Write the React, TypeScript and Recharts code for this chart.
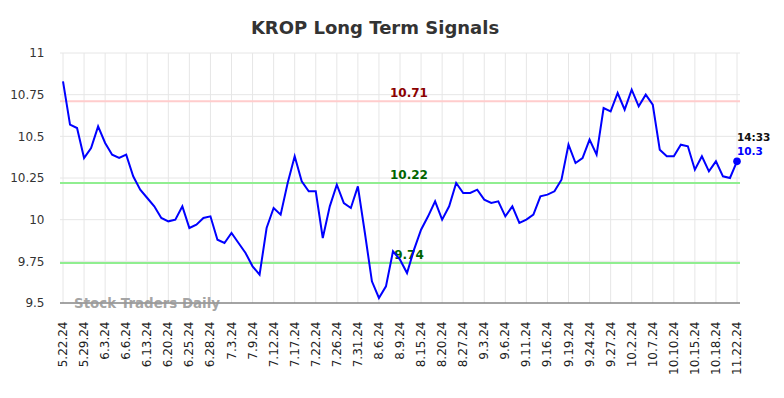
import React from 'react';
import { LineChart, Line, XAxis, YAxis, CartesianGrid, ReferenceLine } from 'recharts';

const tickLabels = ['5.22.24','5.29.24','6.3.24','6.6.24','6.13.24','6.20.24','6.25.24','6.28.24','7.3.24','7.9.24','7.12.24','7.17.24','7.22.24','7.26.24','7.31.24','8.6.24','8.9.24','8.15.24','8.20.24','8.27.24','9.3.24','9.6.24','9.11.24','9.16.24','9.19.24','9.24.24','9.27.24','10.2.24','10.7.24','10.10.24','10.15.24','10.18.24','11.22.24'];

const prices = [
  10.83, 10.57, 10.55, 10.37, 10.43, 10.56, 10.46, 10.39, 10.37, 10.39,
  10.26, 10.18, 10.13, 10.08, 10.01, 9.99, 10.0, 10.08, 9.95, 9.97,
  10.01, 10.02, 9.88, 9.86, 9.92, 9.86, 9.8, 9.72, 9.67, 9.95,
  10.07, 10.03, 10.22, 10.38, 10.23, 10.17, 10.17, 9.89, 10.08, 10.21,
  10.1, 10.07, 10.2, 9.92, 9.63, 9.53, 9.6, 9.81, 9.76, 9.68,
  9.82, 9.94, 10.02, 10.11, 10.0, 10.08, 10.22, 10.16, 10.16, 10.18,
  10.12, 10.1, 10.11, 10.02, 10.08, 9.98, 10.0, 10.03, 10.14, 10.15,
  10.17, 10.24, 10.45, 10.34, 10.37, 10.48, 10.39, 10.67, 10.65, 10.76,
  10.66, 10.78, 10.68, 10.75, 10.69, 10.42, 10.38, 10.38, 10.45, 10.44,
  10.3, 10.38, 10.29, 10.35, 10.26, 10.25, 10.35
];

const yTicks = [9.5, 9.75, 10, 10.25, 10.5, 10.75, 11];
const resistance = 10.71;
const midSupport = 10.22;
const lowSupport = 9.74;
const lastTime = '14:33';
const lastLabel = '10.3';
const title = 'KROP Long Term Signals';
const watermark = 'Stock Traders Daily';

const POINTS_PER_TICK = 3;
const data = prices.map((v, i) => ({ i, v }));
const xTicks = tickLabels.map((_, k) => k * POINTS_PER_TICK);

const FONT = '"DejaVu Sans", sans-serif';

const XTick = (props: any) => {
  const { x, y, payload } = props;
  const label = tickLabels[Math.round(payload.value / POINTS_PER_TICK)] ?? '';
  return (
    <g transform={`translate(${x},${y})`}>
      <text
        transform="rotate(-90)"
        x={-18.5}
        y={0}
        textAnchor="end"
        dominantBaseline="central"
        fontFamily={FONT}
        fontSize={12}
        fill="#222"
      >
        {label}
      </text>
    </g>
  );
};

const RefLabel = (props: any) => {
  const { viewBox, text, color } = props;
  if (!viewBox) return null;
  return (
    <text
      x={viewBox.x + viewBox.width / 2 + 9}
      y={viewBox.y - 4}
      textAnchor="middle"
      fontFamily={FONT}
      fontSize={12}
      fontWeight="bold"
      fill={color}
    >
      {text}
    </text>
  );
};

const LastDot = (props: any) => {
  const { cx, cy, index } = props;
  if (index !== prices.length - 1) return <g key={index} />;
  return (
    <g key={index}>
      <circle cx={cx} cy={cy} r={3.8} fill="#0000ff" />
      <text x={cx} y={cy - 20.5} fontFamily={FONT} fontSize={10.5} fontWeight="bold" fill="#111">
        {lastTime}
      </text>
      <text x={cx} y={cy - 6.5} fontFamily={FONT} fontSize={10.5} fontWeight="bold" fill="#0000ff">
        {lastLabel}
      </text>
    </g>
  );
};

export default function App() {
  return (
    <div style={{ position: 'absolute', left: 0, top: 0, width: 784, height: 398, background: '#fff' }}>
      <LineChart
        width={784}
        height={398}
        data={data}
        margin={{ top: 53, right: 44, bottom: 0, left: 0 }}
      >
        <CartesianGrid stroke="#e6e6e6" strokeWidth={1} verticalValues={xTicks} />
        <XAxis
          dataKey="i"
          type="number"
          domain={[0, prices.length - 1]}
          ticks={xTicks}
          interval={0}
          padding={{ left: 3, right: 3 }}
          height={95}
          tickSize={0}
          tickMargin={0}
          tickLine={false}
          axisLine={{ stroke: '#555', strokeWidth: 1 }}
          tick={<XTick />}
        />
        <YAxis
          type="number"
          domain={[9.5, 11]}
          ticks={yTicks}
          width={60}
          tickSize={0}
          tickMargin={15.5}
          tickLine={false}
          axisLine={false}
          tick={{ fontFamily: FONT, fontSize: 12, fill: '#333' }}
        />
        <ReferenceLine y={resistance} stroke="#ffcccc" strokeWidth={2} label={<RefLabel text="10.71" color="#8b0000" />} />
        <ReferenceLine y={midSupport} stroke="#90ee90" strokeWidth={2} label={<RefLabel text="10.22" color="#006400" />} />
        <ReferenceLine y={lowSupport} stroke="#90ee90" strokeWidth={2} label={<RefLabel text="9.74" color="#006400" />} />
        <Line
          type="linear"
          dataKey="v"
          stroke="#0000ff"
          strokeWidth={2}
          dot={<LastDot />}
          activeDot={false}
          isAnimationActive={false}
        />
      </LineChart>
      <svg width={784} height={398} style={{ position: 'absolute', left: 0, top: 0, pointerEvents: 'none' }}>
        <text x={375} y={33.5} textAnchor="middle" fontFamily={FONT} fontSize={18} fontWeight="bold" fill="#333">
          {title}
        </text>
        <text x={74} y={307.8} fontFamily={FONT} fontSize={13.4} fontWeight="bold" fill="#999" fillOpacity={0.9}>
          {watermark}
        </text>
      </svg>
    </div>
  );
}
